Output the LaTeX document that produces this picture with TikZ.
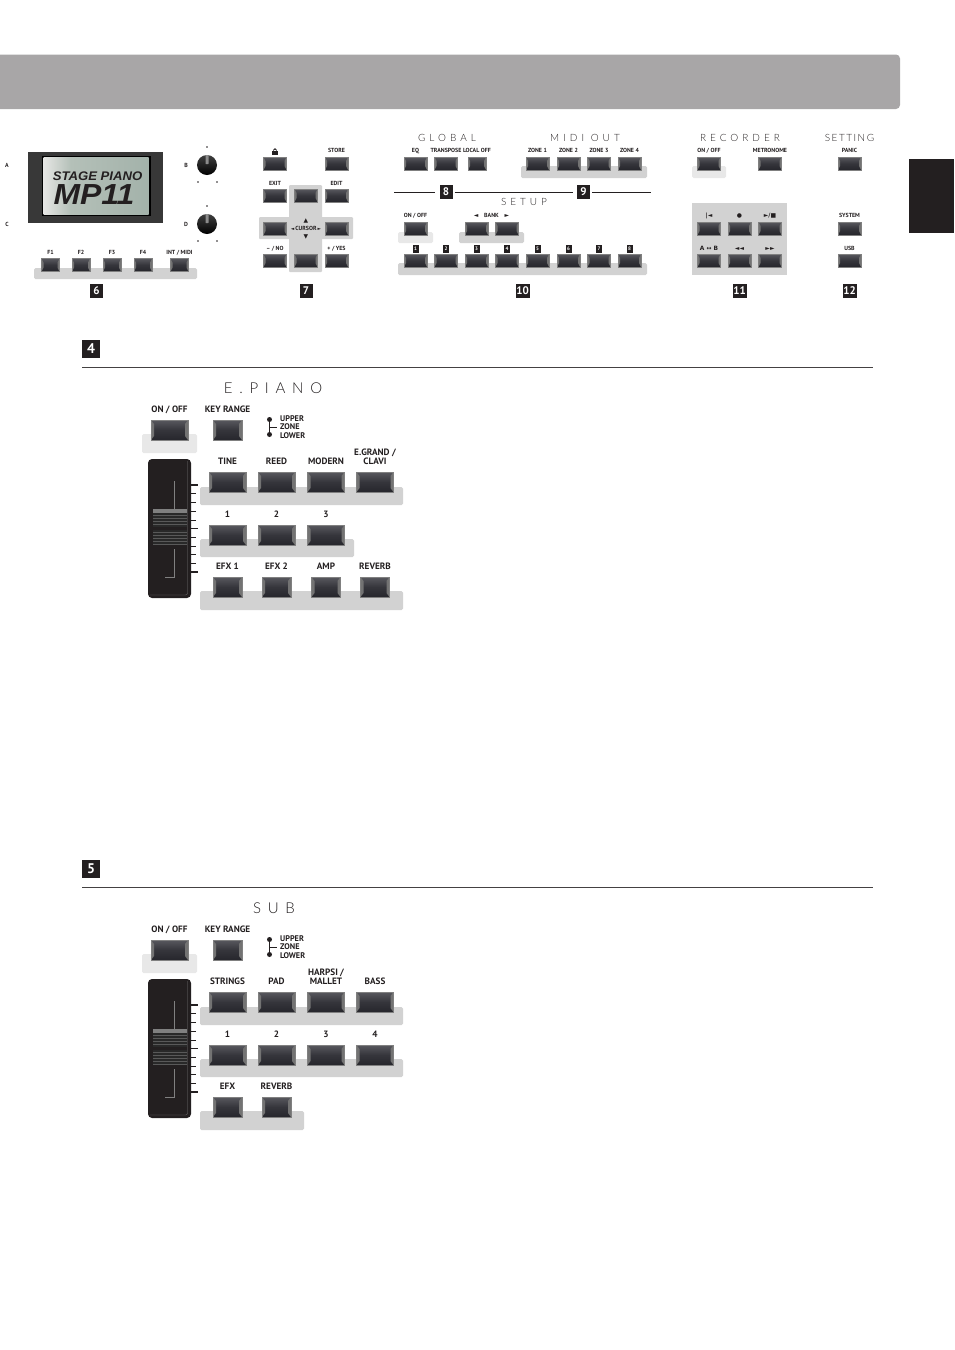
\documentclass[tikz,border=0pt]{standalone}
\usepackage{fontspec}
\usetikzlibrary{positioning,calc}
\setsansfont{PT Sans}
\newfontfamily\titlefont[LetterSpace=40]{Lato Light}
\newfontfamily\bigtitlefont[LetterSpace=45]{Lato Light}
\newfontfamily\settingfont[LetterSpace=15]{Lato Light}
\newfontfamily\symfont{DejaVu Sans}
\newfontfamily\logofont{Liberation Sans}
\definecolor{ink}{HTML}{231F20}
\definecolor{barcol}{HTML}{D2D2D2}
\definecolor{palecol}{HTML}{E8E8E8}
\definecolor{bandcol}{HTML}{A8A6A7}
\definecolor{btntop}{HTML}{58585E}
\definecolor{btnmid}{HTML}{35353B}
\definecolor{btnbot}{HTML}{26262C}
\definecolor{lcda}{HTML}{E6E6E4}
\definecolor{lcdb}{HTML}{B4C0B8}
\definecolor{lcdc}{HTML}{A3B2AA}
\pgfdeclarehorizontalshading{lcdshade}{100bp}{color(0bp)=(lcda); color(25bp)=(lcda); color(38bp)=(lcdb); color(75bp)=(lcdc); color(100bp)=(lcdc)}
\tikzset{
	btn/.style={rectangle, draw=black!50, line width=0.4pt, inner sep=0pt, top color=btntop, bottom color=btnbot, middle color=btnmid,
		path picture={
			\fill[black!55] (path picture bounding box.north west) -- ++(#1,-4pt) -- ($(path picture bounding box.south west)+(#1,4pt)$) -- (path picture bounding box.south west) -- cycle;
			\fill[black!55] (path picture bounding box.north east) -- ++(-#1,-4pt) -- ($(path picture bounding box.south east)+(-#1,4pt)$) -- (path picture bounding box.south east) -- cycle;
		}},
	smallbtn/.style={btn=2pt, minimum width=23pt, minimum height=13pt},
	narrowbtn/.style={btn=2pt, minimum width=18pt, minimum height=13pt},
	bigbtn/.style={btn=3pt, minimum width=37pt, minimum height=20pt},
	midbtn/.style={btn=3pt, minimum width=29pt, minimum height=20pt},
	bar/.style={fill=barcol, rounded corners=1.5pt},
	palebar/.style={fill=palecol, rounded corners=1.5pt},
	toplbl/.style={inner sep=0pt, text depth=0pt, text=ink, font=\sffamily\bfseries\fontsize{5.9}{5.9}\selectfont},
	lbl/.style={inner sep=0pt, text depth=0pt, text=ink, align=center, font=\sffamily\bfseries\fontsize{9.2}{9.2}\selectfont},
	title/.style={inner sep=0pt, text=ink, font=\titlefont\fontsize{10}{10}\selectfont},
	bigtitle/.style={inner sep=0pt, text=ink, font=\bigtitlefont\fontsize{15}{15}\selectfont},
	numbox/.style={fill=ink, text=white, inner sep=0pt, minimum width=13pt, minimum height=14pt, font=\sffamily\bfseries\fontsize{11}{11}\selectfont},
	tinybox/.style={fill=ink, text=white, inner sep=0pt, minimum width=6pt, minimum height=8pt, font=\sffamily\bfseries\fontsize{5}{5}\selectfont},
	bigbox/.style={fill=ink, text=white, inner sep=0pt, minimum width=18pt, minimum height=18pt, font=\sffamily\bfseries\fontsize{14}{14}\selectfont},
	knob/.style={circle, inner sep=0pt, minimum size=20pt, top color=black!75, bottom color=black},
	dot/.style={circle, fill=ink, inner sep=0pt, minimum size=1.8pt},
	letter/.style={inner sep=0pt, text=ink, font=\sffamily\bfseries\fontsize{5.9}{5.9}\selectfont},
}
\begin{document}
\begin{tikzpicture}[x=1pt,y=-1pt]
	\useasboundingbox (0,0) rectangle (954,1350);
	\fill[bandcol, rounded corners=4pt] (-6,54.5) rectangle (900,109);
	\fill[ink] (909,159) rectangle (954,233);
	
	% display and knobs
	\fill[black!78] (28,152) rectangle (163,223);
	\fill[black] (41.5,156) rectangle (151,216);
	\shade[shading=lcdshade] (43.5,157.5) rectangle (148.5,214);
	\node[inner sep=0pt, text=ink, xscale=1.05] (logoa) at (97.5,176.5) {\logofont\bfseries\itshape\fontsize{12.5}{12.5}\selectfont STAGE PIANO};
	\node[inner sep=0pt, text=ink, xscale=1.1] (logob) at (94,194.5) {\logofont\bfseries\itshape\fontsize{29}{29}\selectfont MP11};
	\node[letter] (lettera) at (7,165) {A};
	\node[letter] (letterb) at (186,165) {B};
	\node[letter] (letterc) at (7,224) {C};
	\node[letter] (letterd) at (186,224) {D};
	\foreach \nm/\yk in {b/165,d/224} {
		\node[knob] (knob\nm) at (207,\yk) {};
		\fill[black!45, rounded corners=0.5pt] (205.5,\yk-10) rectangle (208.5,\yk-1);
		\node[dot] (top\nm) at (207,\yk-18) {};
		\node[dot] (left\nm) at (198,\yk+17) {};
		\node[dot] (right\nm) at (217,\yk+17) {};
	}
	
	% 6
	\fill[bar] (34,268) rectangle (197,279);
	\foreach \nm/\xb/\txt in {fa/50.5/F1,fb/81/F2,fc/112/F3,fd/143/F4,fe/179.5/{INT / MIDI}} {
		\node[narrowbtn] (\nm) at (\xb,265) {};
		\node[toplbl, above=3.5pt of \nm] {\txt};
	}
	\node[numbox] (six) at (96.5,291) {6};
	
	% 7
	\fill[bar, rounded corners=1pt] (289,185) rectangle (322,272);
	\fill[bar, rounded corners=1pt] (259,217) rectangle (353,239);
	\node[smallbtn] (lock) at (275,163.5) {};
	\node[smallbtn] (store) at (336.5,163.5) {};
	\fill[ink] (272,150.5) rectangle (278,154.5);
	\draw[ink, line width=0.8pt] (273.3,150.5) arc (180:360:1.7);
	\node[toplbl, above=4.5pt of store] {STORE};
	\node[smallbtn] (exit) at (275,195.5) {};
	\node[smallbtn] (up) at (306,195.5) {};
	\node[smallbtn] (edit) at (336.5,195.5) {};
	\node[toplbl, above=3.5pt of exit] {EXIT};
	\node[toplbl, above=3.5pt of edit] {EDIT};
	\node[smallbtn] (left) at (275,228.5) {};
	\node[smallbtn] (right) at (336.5,228.5) {};
	\node[smallbtn] (no) at (275,260.5) {};
	\node[smallbtn] (down) at (306,260.5) {};
	\node[smallbtn] (yes) at (336.5,260.5) {};
	\node[toplbl, above=3.5pt of no] {\textendash\ / NO};
	\node[toplbl, above=3.5pt of yes] {+ / YES};
	\node[toplbl] (cursor) at (306,228.5) {{\symfont\fontsize{4.5}{4.5}\selectfont ◄}\,CURSOR\,{\symfont\fontsize{4.5}{4.5}\selectfont ►}};
	\node[toplbl, above=3.5pt of cursor] {\symfont ▲};
	\node[toplbl, below=3.5pt of cursor] {\symfont ▼};
	\node[numbox] (seven) at (306,291) {7};
	
	% 8 and 9
	\node[title] (global) at (447,138) {GLOBAL};
	\node[smallbtn] (eq) at (415.5,163.5) {};
	\node[smallbtn] (transpose) at (446,163.5) {};
	\node[narrowbtn] (localoff) at (477,163.5) {};
	\node[toplbl, above=4.5pt of eq] {EQ};
	\node[toplbl, above=4.5pt of transpose] {TRANSPOSE};
	\node[toplbl, above=4.5pt of localoff] {LOCAL OFF};
	\node[title] (midiout) at (585,138) {MIDI OUT};
	\fill[bar] (521,166) rectangle (647,178);
	\foreach \nm/\xb/\txt in {zonea/537.5/ZONE 1,zoneb/568.5/ZONE 2,zonec/599/ZONE 3,zoned/629.5/ZONE 4} {
		\node[smallbtn] (\nm) at (\xb,163.5) {};
		\node[toplbl, above=4.5pt of \nm] {\txt};
	}
	\node[numbox] (eight) at (446,192) {8};
	\node[numbox] (nine) at (583.5,192) {9};
	\coordinate (linestart) at (394,192);
	\coordinate (lineend) at (650.5,192);
	\draw[ink, line width=0.7pt] (linestart) -- ([xshift=-4pt]eight.west);
	\draw[ink, line width=0.7pt] ([xshift=2pt]eight.east) -- ([xshift=-4pt]nine.west);
	\draw[ink, line width=0.7pt] ([xshift=2pt]nine.east) -- (lineend);
	
	% 10
	\node[title] (setup) at (524,202) {SETUP};
	\fill[palebar] (398,232) rectangle (433,243);
	\fill[bar] (459,232) rectangle (524,243);
	\fill[bar] (398,263) rectangle (647,275);
	\node[smallbtn] (setupon) at (415.5,228.5) {};
	\node[toplbl, above=4.5pt of setupon] {ON / OFF};
	\node[smallbtn] (bankl) at (476.5,228.5) {};
	\node[smallbtn] (bankr) at (507,228.5) {};
	\node[toplbl] (bank) at (491.5,215) {{\symfont ◄}\quad BANK\quad{\symfont ►}};
	\foreach \xb [count=\i] in {415.5,446,476.5,507,537.5,568.5,599,629.5} {
		\node[smallbtn] (mem\i) at (\xb,260.5) {};
		\node[tinybox, above=1pt of mem\i] {\i};
	}
	\node[numbox, minimum width=14pt] (ten) at (522.5,291) {10};
	
	% 11
	\node[title] (recorder) at (740,138) {RECORDER};
	\fill[palebar] (692,166) rectangle (726,178);
	\node[smallbtn] (recon) at (709,163.5) {};
	\node[smallbtn] (metronome) at (770,163.5) {};
	\node[toplbl, above=4.5pt of recon] {ON / OFF};
	\node[toplbl, above=4.5pt of metronome] {METRONOME};
	\fill[barcol] (692,203) rectangle (787,275);
	\foreach \nm/\xb/\txt in {rewind/709/|◄,record/739.5/●,play/770/{►/■}} {
		\node[smallbtn] (\nm) at (\xb,228.5) {};
		\node[toplbl, above=4.5pt of \nm] {\symfont\txt};
	}
	\foreach \nm/\xb/\txt in {ab/709/{A ↔ B},back/739.5/◄◄,forward/770/►►} {
		\node[smallbtn] (\nm) at (\xb,260.5) {};
		\node[toplbl, above=3.5pt of \nm] {\symfont\txt};
	}
	\node[numbox, minimum width=14pt] (eleven) at (739.5,291) {11};
	
	% 12
	\node[inner sep=0pt, text=ink, font=\settingfont\fontsize{10}{10}\selectfont] (setting) at (849.5,138) {SETTING};
	\node[smallbtn] (panic) at (849.5,163.5) {};
	\node[smallbtn] (system) at (849.5,228.5) {};
	\node[smallbtn] (usb) at (849.5,260.5) {};
	\node[toplbl, above=4.5pt of panic] {PANIC};
	\node[toplbl, above=4.5pt of system] {SYSTEM};
	\node[toplbl, above=3.5pt of usb] {USB};
	\node[numbox, minimum width=14pt] (twelve) at (849.5,291) {12};
	
	% 4 and 5
	\foreach \s/\yo/\num/\name/\xt in {a/0/4/E.PIANO/273,b/520/5/SUB/274} {
		\begin{scope}[shift={(0,\yo)}]
			\node[bigbox] (num\s) at (91,349) {\num};
			\coordinate (rulel\s) at (82,367.5);
			\coordinate (ruler\s) at (873,367.5);
			\draw[ink!85, line width=0.8pt] (rulel\s) -- (ruler\s);
			\node[bigtitle] (name\s) at (\xt,388.5) {\name};
			
			\fill[palebar] (142,434) rectangle (197,453);
			\node[bigbtn] (on\s) at (169.5,430) {};
			\node[midbtn] (range\s) at (227.5,430) {};
			\node[lbl, above=7pt of on\s] {ON / OFF};
			\node[lbl, above=7pt of range\s] {KEY RANGE};
			
			\node[dot, minimum size=5pt] (upper\s) at (269.5,419.5) {};
			\node[dot, minimum size=5pt] (lower\s) at (269.5,434.5) {};
			\coordinate (zonemid\s) at (269.5,427);
			\coordinate (zonetip\s) at (277,427);
			\draw[ink, line width=0.5pt] (upper\s) -- (lower\s);
			\draw[ink, line width=0.5pt] (zonemid\s) -- (zonetip\s);
			\node[lbl, anchor=west, align=left, font=\sffamily\bfseries\fontsize{8.2}{8.6}\selectfont] (zone\s) at (280,427) {UPPER\\ZONE\\LOWER};
			
			% fader
			\fill[ink, rounded corners=4pt] (148,459) rectangle (191,598);
			\draw[black!55, line width=0.3pt, rounded corners=2pt] (187.5,461) -- (187.5,595) -- (150,595);
			\fill[black!84] (153,513) rectangle (187,527);
			\fill[black!84] (153,530) rectangle (187,545);
			\foreach \yl in {515,518,521,524,532,535,538,541,544}
				\draw[black!65, line width=0.4pt] (153,\yl) -- (187,\yl);
			\fill[black!50] (153,509) rectangle (187,513);
			\draw[black!50, line width=0.4pt] (174,481) -- (174,509);
			\draw[black!50, line width=0.4pt] (174,549) -- (174,577) -- (165,577);
			\foreach \yl in {493.7,502.3,511.3,520,537,546,554.7,563.3}
				\draw[ink, line width=0.5pt] (191,\yl) -- (196,\yl);
			\foreach \yl in {485,528.7,572}
				\draw[ink, line width=1.2pt] (191,\yl) -- (198,\yl);
		\end{scope}
	}
	
	% E.PIANO buttons
	\fill[bar] (200,487) rectangle (403,505);
	\fill[bar] (200,539) rectangle (354,557);
	\fill[bar] (200,591) rectangle (403,610);
	\foreach \nm/\xb/\txt in {tine/227.5/TINE,reed/276.5/REED,modern/326/MODERN,egrand/375/{E.GRAND /\\CLAVI}} {
		\node[bigbtn] (\nm) at (\xb,482) {};
		\node[lbl, above=7pt of \nm] {\txt};
	}
	\foreach \nm/\xb/\txt in {epa/227.5/1,epb/276.5/2,epc/326/3} {
		\node[bigbtn] (\nm) at (\xb,535) {};
		\node[lbl, above=7pt of \nm] {\txt};
	}
	\foreach \nm/\xb/\txt in {efxa/227.5/EFX 1,efxb/276.5/EFX 2,amp/326/AMP,reverb/375/REVERB} {
		\node[midbtn] (\nm) at (\xb,587) {};
		\node[lbl, above=7pt of \nm] {\txt};
	}
	
	% SUB buttons
	\fill[bar] (200,1007) rectangle (403,1025);
	\fill[bar] (200,1059) rectangle (403,1077);
	\fill[bar] (200,1111) rectangle (304,1130);
	\foreach \nm/\xb/\txt in {strings/227.5/STRINGS,pad/276.5/PAD,harpsi/326/{HARPSI /\\MALLET},bass/375/BASS} {
		\node[bigbtn] (\nm) at (\xb,1002) {};
		\node[lbl, above=7pt of \nm] {\txt};
	}
	\foreach \nm/\xb/\txt in {suba/227.5/1,subb/276.5/2,subc/326/3,subd/375/4} {
		\node[bigbtn] (\nm) at (\xb,1055) {};
		\node[lbl, above=7pt of \nm] {\txt};
	}
	\foreach \nm/\xb/\txt in {efxs/227.5/EFX,reverbs/276.5/REVERB} {
		\node[midbtn] (\nm) at (\xb,1107) {};
		\node[lbl, above=7pt of \nm] {\txt};
	}
\end{tikzpicture}
\end{document}
